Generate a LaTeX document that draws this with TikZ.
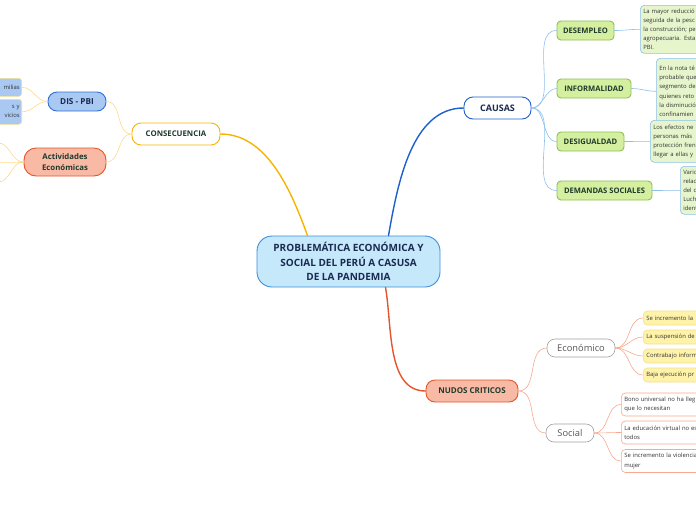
\documentclass[tikz,border=0pt]{standalone}
\usepackage{fontspec}
\setmainfont{Open Sans}
\usetikzlibrary{positioning}
\definecolor{centralfill}{HTML}{C6E8FB}
\definecolor{centraldraw}{HTML}{3B8ED8}
\definecolor{navytext}{HTML}{1A2A50}
\definecolor{causafill}{HTML}{D4EF9F}
\definecolor{causadraw}{HTML}{8CC152}
\definecolor{leafgreen}{HTML}{E6F5CC}
\definecolor{leafblue}{HTML}{8CC0EA}
\definecolor{bluebranch}{HTML}{1E5FCC}
\definecolor{orangebranch}{HTML}{F6B400}
\definecolor{orangethin}{HTML}{FFD98A}
\definecolor{disfill}{HTML}{A9C9F2}
\definecolor{disdraw}{HTML}{2F6FD6}
\definecolor{redfill}{HTML}{F8BAA5}
\definecolor{reddraw}{HTML}{E4552B}
\definecolor{redthin}{HTML}{F6A98E}
\definecolor{grayline}{HTML}{A0A0A0}
\definecolor{graytext}{HTML}{555555}
\definecolor{yellowfill}{HTML}{FFF3AA}
\definecolor{yellowdraw}{HTML}{F3E08C}
\definecolor{darktext}{HTML}{1F3A2C}
\begin{document}
\begin{tikzpicture}[x=1pt, y=-1pt, line join=round, line cap=round,
    topic/.style={draw, rounded corners=9pt, line width=0.9pt, inner sep=2pt, align=center, font=\bfseries\fontsize{7.6}{9}\selectfont, text=darktext},
    causa/.style={topic, rounded corners=4pt, fill=causafill, draw=causadraw, minimum height=19, text=darktext},
    sub/.style={draw=grayline, fill=white, rounded corners=8pt, line width=0.6pt, minimum height=18, font=\fontsize{9.3}{10}\selectfont, text=graytext},
    leaf/.style={draw, rounded corners=4pt, line width=0.6pt, anchor=north west, align=left, inner sep=3pt, text width=90, font=\fontsize{5.9}{9.2}\selectfont, text=black!80},
    sideleaf/.style={draw=yellowdraw, fill=disfill, rounded corners=3pt, line width=0.6pt, anchor=north east, text width=34, inner sep=2pt, align=right, font=\fontsize{5.9}{9.2}\selectfont, text=black!80},
    link/.style={line width=0.6pt}]
  \useasboundingbox (0,0) rectangle (696,520);
  \clip (0,0) rectangle (696,520);
  % central topic
  \node[topic, fill=centralfill, draw=centraldraw, text=navytext, minimum width=183, minimum height=51, rounded corners=15pt, font=\bfseries\fontsize{10}{14.5}\selectfont] (prob) at (348.5,261.5) {PROBLEMÁTICA ECONÓMICA Y\\SOCIAL DEL PERÚ A CASUSA\\DE LA PANDEMIA};
  % causas
  \node[topic, fill=white, draw=bluebranch, minimum width=67, minimum height=22, font=\bfseries\fontsize{9}{10}\selectfont, text=navytext] (causas) at (497.5,108) {CAUSAS};
  \node[causa, minimum width=57] (desem) at (585.5,30.5) {DESEMPLEO};
  \node[causa, minimum width=74] (infor) at (594,88.5) {INFORMALIDAD};
  \node[causa, minimum width=67] (desig) at (590.5,141.5) {DESIGUALDAD};
  \node[causa, minimum width=95] (deman) at (604.5,190.5) {DEMANDAS SOCIALES};
  \node[leaf, fill=leafgreen, draw=leafblue, minimum height=48] (ldesem) at (640,5) {La mayor reducció\\seguida de la pesc\\la construcción; pe\\agropecuaria. Esta\\PBI.};
  \node[leaf, fill=leafgreen, draw=leafblue, minimum height=66] (linfor) at (656,58) {En la nota té\\probable que\\segmento de\\quienes reto\\la disminució\\confinamien};
  \node[leaf, fill=leafgreen, draw=leafblue, minimum height=42] (ldesig) at (650,120) {Los efectos ne\\personas más\\protección fren\\llegar a ellas y};
  \node[leaf, fill=leafgreen, draw=leafblue, minimum height=48] (ldeman) at (680,166) {Vario\\relac\\del d\\Luch\\identi};
  % consecuencia
  \node[topic, fill=white, draw=orangebranch, minimum width=88, minimum height=22, font=\bfseries\fontsize{7.8}{9}\selectfont] (conse) at (176,134) {CONSECUENCIA};
  \node[topic, fill=disfill, draw=disdraw, minimum width=58, minimum height=19, text=navytext, font=\bfseries\fontsize{8.2}{9}\selectfont] (dispbi) at (77,101.5) {DIS - PBI};
  \node[topic, fill=redfill, draw=reddraw, minimum width=82, minimum height=28, rounded corners=12pt, font=\bfseries\fontsize{7.8}{11}\selectfont] (activ) at (65,162) {Actividades\\Económicas};
  \node[sideleaf, minimum height=18] (lfam) at (22,78) {milias};
  \node[sideleaf, minimum height=25] (lserv) at (22,99) {s y\\vicios};
  \coordinate (act1) at (-2,143);
  \coordinate (act2) at (-2,162);
  \coordinate (act3) at (-2,182);
  % nudos criticos
  \node[topic, fill=redfill, draw=reddraw, minimum width=92, minimum height=22, font=\bfseries\fontsize{8}{9}\selectfont] (nudos) at (472,391) {NUDOS CRITICOS};
  \node[sub, minimum width=68] (econ) at (581,348) {Económico};
  \node[sub, minimum width=48] (social) at (570,433) {Social};
  \node[leaf, fill=yellowfill, draw=yellowdraw, minimum height=14, anchor=west] (le1) at (643,318) {Se incremento la};
  \node[leaf, fill=yellowfill, draw=yellowdraw, minimum height=14, anchor=west] (le2) at (643,337) {La suspensión de l};
  \node[leaf, fill=yellowfill, draw=yellowdraw, minimum height=14, anchor=west] (le3) at (643,356) {Contrabajo inform};
  \node[leaf, fill=yellowfill, draw=yellowdraw, minimum height=14, anchor=west] (le4) at (643,375) {Baja ejecución pr};
  \node[leaf, fill=white, draw=redthin, minimum height=23, anchor=west] (ls1) at (621,404.5) {Bono universal no ha lleg\\que lo necesitan};
  \node[leaf, fill=white, draw=redthin, minimum height=23, anchor=west] (ls2) at (621,432.5) {La educación virtual no es\\todos};
  \node[leaf, fill=white, draw=redthin, minimum height=23, anchor=west] (ls3) at (621,461) {Se incremento la violencia\\mujer};
  % main branches
  \draw[bluebranch, line width=1.4pt] ([xshift=40]prob.north) to[out=80, in=180, looseness=0.9] (causas.west);
  \draw[orangebranch, line width=1.4pt] ([xshift=-41]prob.north) to[out=110, in=0, looseness=0.9] (conse.east);
  \draw[reddraw, line width=1.4pt] ([xshift=37]prob.south) to[out=-80, in=180, looseness=0.9] (nudos.west);
  % causas links
  \begin{scope}[link, leafblue]
    \foreach \c/\l in {desem/ldesem, infor/linfor, desig/ldesig, deman/ldeman} {
      \draw (causas.east) to[out=0, in=180, looseness=0.9] (\c.west);
      \draw (\c.east) to[out=0, in=180] (\l.west);
    }
  \end{scope}
  % consecuencia links
  \begin{scope}[link, orangethin]
    \draw (conse.west) to[out=180, in=0] (dispbi.east);
    \draw (conse.west) to[out=180, in=0] (activ.east);
    \draw (dispbi.west) to[out=180, in=0] (lfam.east);
    \draw (dispbi.west) to[out=180, in=0] (lserv.east);
    \foreach \a in {act1, act2, act3}
      \draw (activ.west) to[out=180, in=0] (\a);
  \end{scope}
  % nudos links
  \begin{scope}[link, redthin]
    \draw (nudos.east) to[out=0, in=180] (econ.west);
    \draw (nudos.east) to[out=0, in=180] (social.west);
    \foreach \l in {le1, le2, le3, le4}
      \draw (econ.east) to[out=0, in=180] (\l.west);
    \foreach \l in {ls1, ls2, ls3}
      \draw (social.east) to[out=0, in=180] (\l.west);
  \end{scope}
\end{tikzpicture}
\end{document}
